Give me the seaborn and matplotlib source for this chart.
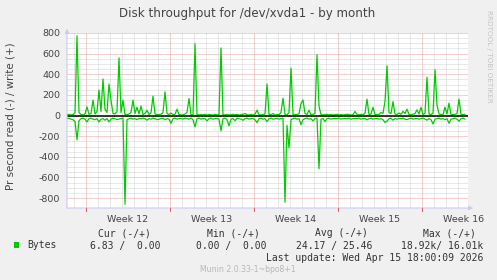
import numpy as np
import pandas as pd
import matplotlib
matplotlib.use("Agg")
import matplotlib.pyplot as plt
from matplotlib.patches import Rectangle
import seaborn as sns

# ---------------- data (4-hour samples, one per 2 px) ----------------
write_bytes = [
    8, 12, 5, 10, 25, 774, 30, 10, 6, 15,
    84, 12, 20, 149, 15, 40, 247, 40, 354, 60,
    30, 305, 149, 20, 15, 40, 559, 30, 149, 10,
    8, 15, 30, 149, 20, 81, 15, 91, 10, 20,
    52, 10, 25, 188, 15, 10, 8, 12, 30, 230,
    20, 10, 25, 8, 12, 61, 10, 5, 8, 15,
    30, 166, 10, 5, 696, 5, 8, 10, 6, 12,
    5, 10, 8, 5, 12, 6, 10, 655, 5, 8,
    10, 5, 8, 12, 6, 10, 5, 8, 12, 20,
    8, 5, 10, 6, 12, 53, 8, 5, 10, 15,
    305, 12, 8, 20, 5, 10, 8, 30, 168, 10,
    5, 30, 460, 12, 8, 10, 15, 117, 150, 20,
    10, 52, 8, 12, 20, 590, 90, 10, 5, 8,
    12, 6, 10, 5, 8, 12, 6, 10, 5, 8,
    12, 10, 5, 8, 40, 10, 6, 12, 8, 20,
    159, 10, 15, 80, 10, 8, 12, 30, 20, 138,
    483, 30, 20, 135, 15, 10, 25, 12, 40, 20,
    62, 10, 8, 12, 20, 55, 15, 80, 10, 20,
    372, 15, 10, 20, 444, 100, 15, 10, 8, 81,
    15, 120, 10, 8, 12, 20, 159, 10, 8, 12,
]
read_bytes = [
    30, 25, 35, 40, 60, 235, 50, 30, 25, 35,
    62, 30, 25, 35, 40, 30, 62, 35, 30, 45,
    30, 62, 35, 25, 30, 40, 35, 30, 25, 860,
    40, 30, 25, 35, 30, 40, 28, 32, 25, 30,
    45, 30, 35, 25, 30, 40, 35, 30, 25, 40,
    30, 35, 75, 30, 25, 35, 30, 28, 35, 25,
    30, 35, 25, 40, 110, 30, 25, 35, 28, 30,
    52, 30, 25, 35, 30, 28, 35, 148, 30, 25,
    40, 100, 35, 30, 50, 25, 30, 35, 46, 30,
    25, 35, 30, 28, 40, 68, 30, 25, 35, 30,
    60, 30, 25, 35, 30, 28, 35, 30, 25, 840,
    95, 314, 40, 30, 25, 35, 30, 90, 40, 30,
    25, 35, 30, 52, 30, 25, 515, 35, 30, 58,
    30, 25, 35, 30, 28, 30, 25, 35, 30, 28,
    30, 25, 35, 30, 28, 30, 25, 35, 30, 28,
    42, 30, 25, 35, 30, 28, 35, 30, 40, 68,
    55, 30, 25, 45, 30, 35, 28, 30, 25, 35,
    40, 30, 25, 35, 30, 28, 35, 30, 25, 35,
    45, 30, 40, 82, 35, 30, 25, 35, 30, 40,
    30, 75, 35, 30, 25, 35, 55, 30, 25, 35,
]
sample_day = [i / 6 for i in range(len(write_bytes))]   # days since left edge

y_ticks = [-800, -600, -400, -200, 0, 200, 400, 600, 800]
week_labels = ["Week 12", "Week 13", "Week 14", "Week 15", "Week 16"]
week_start_day = 19 / 12   # first week boundary (days from left edge)

legend_headers = ["Cur (-/+)", "Min (-/+)", "Avg (-/+)", "Max (-/+)"]
legend_values = ["6.83 /  0.00", "0.00 /  0.00", "24.17 / 25.46", "18.92k/ 16.01k"]
series_name = "Bytes"
title = "Disk throughput for /dev/xvda1 - by month"
ylabel = "Pr second read (-) / write (+)"
last_update = "Last update: Wed Apr 15 18:00:09 2026"
footer = "Munin 2.0.33-1~bpo8+1"

# ---------------- figure ----------------
sns.set_style("white")
plt.rcParams["font.family"] = ["DejaVu Sans"]

W, H = 497, 280
fig = plt.figure(figsize=(W / 100, H / 100), dpi=100, facecolor="#F0F0F0")
L, R, T, B = 67, 468, 33, 208
ax = fig.add_axes([L / W, 1 - B / H, (R - L) / W, (B - T) / H])
ax.set_facecolor("white")
x_max = (R - L) / 12
ax.set_xlim(0, x_max)
ax.set_ylim(-896, 800)
for s in ax.spines.values():
    s.set_visible(False)

major_c = "#EBA0A0"
minor_c = "#D2D2D2"
dot = (0, (1, 1))
for v in range(-800, 801, 50):
    if v % 200 == 0:
        ax.axhline(v, color=major_c, lw=0.72, ls=dot, zorder=0.5)
    else:
        ax.axhline(v, color=minor_c, lw=0.72, ls=dot, zorder=0.3)
d = week_start_day - 2
while d < x_max:
    if d > 0:
        k = round(d - week_start_day)
        if k % 7 == 0:
            ax.axvline(d, color=major_c, lw=0.72, ls=dot, zorder=0.5)
        else:
            ax.axvline(d, color=minor_c, lw=0.72, ls=dot, zorder=0.3)
    d += 1

df = pd.DataFrame({"day": sample_day,
                   "write": write_bytes,
                   "read": [-v for v in read_bytes]})
green = "#00CC00"
sns.lineplot(data=df, x="day", y="write", color=green, lw=0.9, ax=ax, zorder=2)
sns.lineplot(data=df, x="day", y="read", color=green, lw=0.9, ax=ax, zorder=2)
ax.axhline(0, color="black", lw=1.1, zorder=3)

# ticks
ax.set_yticks(y_ticks)
ax.set_yticklabels([str(v) for v in y_ticks])
label_days = [week_start_day + 3.5 + 7 * k for k in range(len(week_labels))]
ax.set_xticks(label_days)
ax.set_xticklabels(week_labels)
ax.tick_params(axis="both", length=0, labelsize=6.8, colors="#444444")
ax.tick_params(axis="y", pad=5)
ax.tick_params(axis="x", pad=5)
ax.set_xlabel("")
ax.set_ylabel("")
# red week tick marks below axis
for k in range(5):
    wd = week_start_day + 7 * k
    ax.plot([wd, wd], [-896, -896 - 30], color="#E06060", lw=0.8, clip_on=False, zorder=4)

# axis lines with arrows
axis_c = "#C8CCF0"
ax.annotate("", xy=(R + 8, H - B), xytext=(L - 3, H - B), xycoords="figure pixels",
            textcoords="figure pixels",
            arrowprops=dict(arrowstyle="-|>", color=axis_c, lw=0.8, mutation_scale=6))
ax.annotate("", xy=(L, H - 26), xytext=(L, H - B - 3), xycoords="figure pixels",
            textcoords="figure pixels",
            arrowprops=dict(arrowstyle="-|>", color=axis_c, lw=0.8, mutation_scale=6))

# texts
fig.text(247.5 / W, 1 - 13 / H, title, ha="center", va="center", fontsize=8.6, color="#444444")
fig.text(10.5 / W, 1 - 116 / H, ylabel, rotation=90, ha="center", va="center",
         fontsize=7.4, color="#444444")
fig.text(489 / W, 1 - 56 / H, "RRDTOOL / TOBI OETIKER", rotation=270, ha="center",
         va="center", fontsize=5.2, color="#C4C4C4")

mono = "DejaVu Sans Mono"
for txt, xr in zip(legend_headers, [151, 260, 368, 476]):
    fig.text(xr / W, 1 - 233.5 / H, txt, ha="right", va="center", fontsize=7,
             family=mono, color="#333333")
for txt, xr in zip(legend_values, [161, 267, 372, 483]):
    fig.text(xr / W, 1 - 245.5 / H, txt, ha="right", va="center", fontsize=7,
             family=mono, color="#333333")
fig.text(27 / W, 1 - 245.5 / H, series_name, ha="left", va="center", fontsize=7,
         family=mono, color="#333333")
fig.patches.append(Rectangle((13.5 / W, 1 - 248 / H), 5.5 / W, 6 / H,
                             transform=fig.transFigure, facecolor=green, edgecolor="none"))
fig.text(483 / W, 1 - 257.7 / H, last_update, ha="right", va="center", fontsize=7,
         family=mono, color="#333333")
fig.text(248 / W, 1 - 269.5 / H, footer, ha="center", va="center", fontsize=5.6,
         color="#B8B8B8")

fig.savefig("out.png", dpi=100, facecolor=fig.get_facecolor())
